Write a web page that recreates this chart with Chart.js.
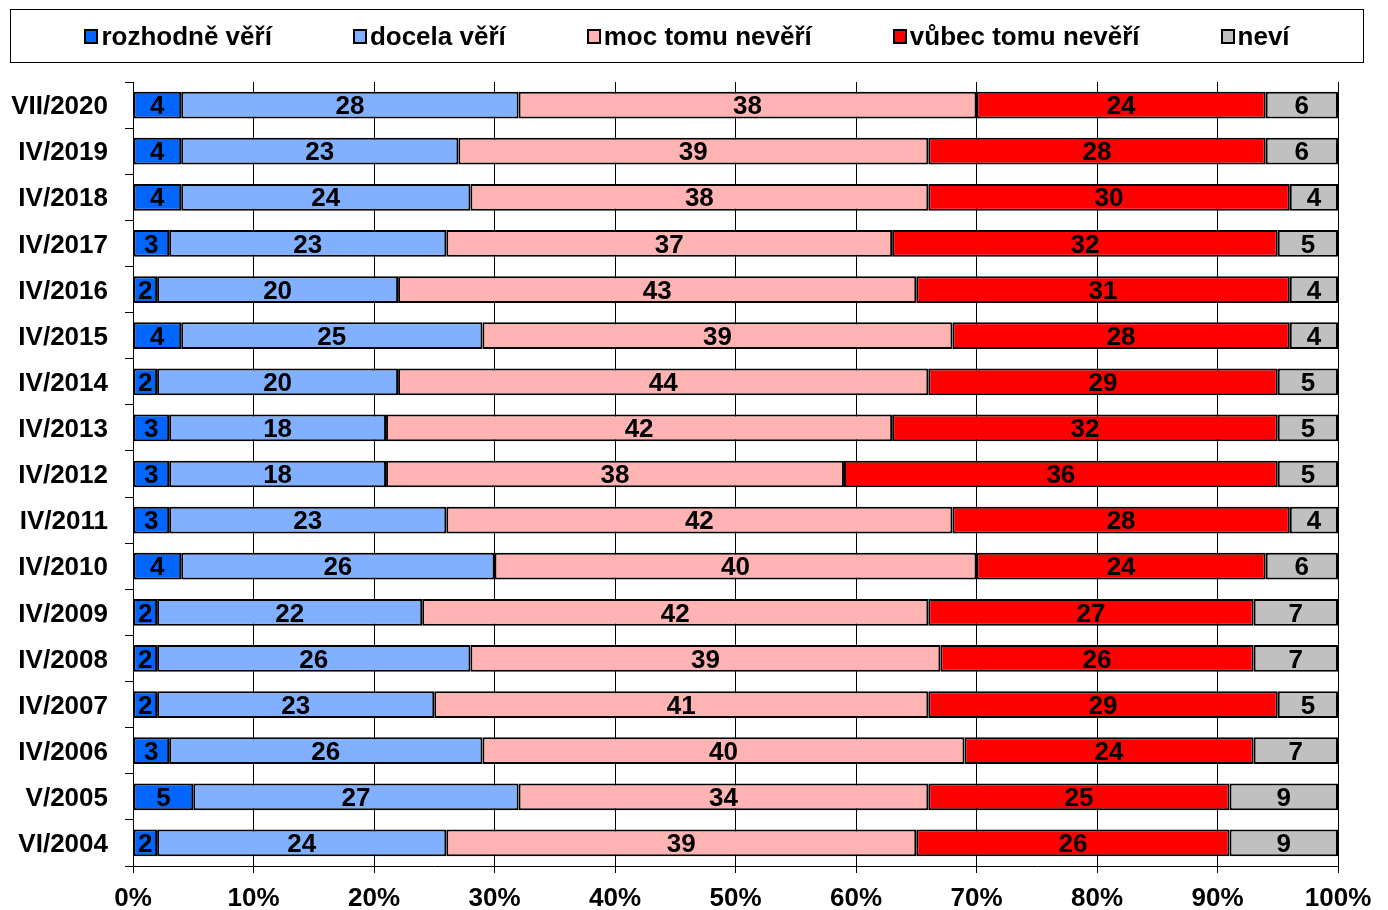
<!DOCTYPE html>
<html>
<head>
<meta charset="utf-8">
<script src="https://cdn.jsdelivr.net/npm/chart.js@4"></script>
<style>
  html, body { margin: 0; padding: 0; background: #fff; }
  #wrap { position: relative; width: 1388px; height: 910px; }
  #legend {
    position: absolute; left: 10px; top: 9px; width: 1352px; height: 52px;
    border: 1px solid #000; display: flex; align-items: center; justify-content: center;
    gap: 81px; font: bold 26px "Liberation Sans", Arial, sans-serif; box-sizing: content-box;
  }
  #legend span.item { display: flex; align-items: center; white-space: nowrap; }
  #legend span.box { display: inline-block; width: 10px; height: 11px; border: 2px solid #000; margin-right: 3px; }
</style>
</head>
<body>
<div id="wrap">
  <canvas id="chart" width="1388" height="910"></canvas>
  <div id="legend"></div>
</div>
<script>
const categories = ['VII/2020', 'IV/2019', 'IV/2018', 'IV/2017', 'IV/2016', 'IV/2015', 'IV/2014', 'IV/2013',
  'IV/2012', 'IV/2011', 'IV/2010', 'IV/2009', 'IV/2008', 'IV/2007', 'IV/2006', 'V/2005', 'VI/2004'];
const seriesNames = ['rozhodně věří', 'docela věří', 'moc tomu nevěří', 'vůbec tomu nevěří', 'neví'];
const rozhodneVeri = [4, 4, 4, 3, 2, 4, 2, 3, 3, 3, 4, 2, 2, 2, 3, 5, 2];
const docelaVeri = [28, 23, 24, 23, 20, 25, 20, 18, 18, 23, 26, 22, 26, 23, 26, 27, 24];
const mocTomuNeveri = [38, 39, 38, 37, 43, 39, 44, 42, 38, 42, 40, 42, 39, 41, 40, 34, 39];
const vubecTomuNeveri = [24, 28, 30, 32, 31, 28, 29, 32, 36, 28, 24, 27, 26, 29, 24, 25, 26];
const nevi = [6, 6, 4, 5, 4, 4, 5, 5, 5, 4, 6, 7, 7, 5, 7, 9, 9];
const xTicks = [0, 10, 20, 30, 40, 50, 60, 70, 80, 90, 100];

const colors = ['#0066FF', '#80B0FF', '#FFB3B3', '#FF0000', '#C0C0C0'];
const values = [rozhodneVeri, docelaVeri, mocTomuNeveri, vubecTomuNeveri, nevi];
const FONT = '"Liberation Sans", Arial, sans-serif';

const barLabels = {
  id: 'barLabels',
  afterDatasetsDraw(chart) {
    const ctx = chart.ctx;
    ctx.save();
    ctx.font = 'bold 26px ' + FONT;
    ctx.fillStyle = '#000';
    ctx.textAlign = 'center';
    ctx.textBaseline = 'middle';
    chart.data.datasets.forEach((ds, i) => {
      chart.getDatasetMeta(i).data.forEach((bar, j) => {
        const cx = (bar.x + bar.base) / 2;
        ctx.fillText(ds.data[j], cx, bar.y + 2);
      });
    });
    ctx.restore();
  }
};

const chart = new Chart(document.getElementById('chart'), {
  type: 'bar',
  data: {
    labels: categories,
    datasets: seriesNames.map((name, i) => ({
      label: name,
      data: values[i],
      backgroundColor: colors[i],
      borderColor: '#000',
      borderWidth: 2,
      borderSkipped: false,
      barPercentage: 0.58,
      categoryPercentage: 1
    }))
  },
  options: {
    indexAxis: 'y',
    responsive: false,
    animation: false,
    layout: { padding: { top: 82, left: 0, right: 50, bottom: 0 } },
    plugins: { legend: { display: false }, tooltip: { enabled: false } },
    scales: {
      x: {
        stacked: true,
        min: 0,
        max: 100,
        afterBuildTicks: (axis) => { axis.ticks = xTicks.map(v => ({ value: v })); },
        afterFit: (axis) => { axis.height = 44; },
        ticks: { callback: v => v + '%', color: '#000', font: { family: FONT, size: 26, weight: 'bold', lineHeight: 1 }, padding: 13, maxRotation: 0 },
        grid: { color: '#000', lineWidth: 1, tickLength: 7 },
        border: { display: true, color: '#000', width: 1 }
      },
      y: {
        stacked: true,
        afterFit: (axis) => { axis.width = 133; axis.paddingTop = 0; axis.paddingBottom = 0; },
        ticks: { color: '#000', font: { family: FONT, size: 26, weight: 'bold' }, padding: 17, labelOffset: 2 },
        grid: { drawOnChartArea: false, color: '#000', tickLength: 8, offset: true },
        border: { display: true, color: '#000', width: 1 }
      }
    }
  },
  plugins: [barLabels]
});

// legend built from the chart's datasets
const legendEl = document.getElementById('legend');
chart.data.datasets.forEach(ds => {
  const item = document.createElement('span');
  item.className = 'item';
  const box = document.createElement('span');
  box.className = 'box';
  box.style.background = ds.backgroundColor;
  item.appendChild(box);
  item.appendChild(document.createTextNode(ds.label));
  legendEl.appendChild(item);
});
</script>
</body>
</html>
